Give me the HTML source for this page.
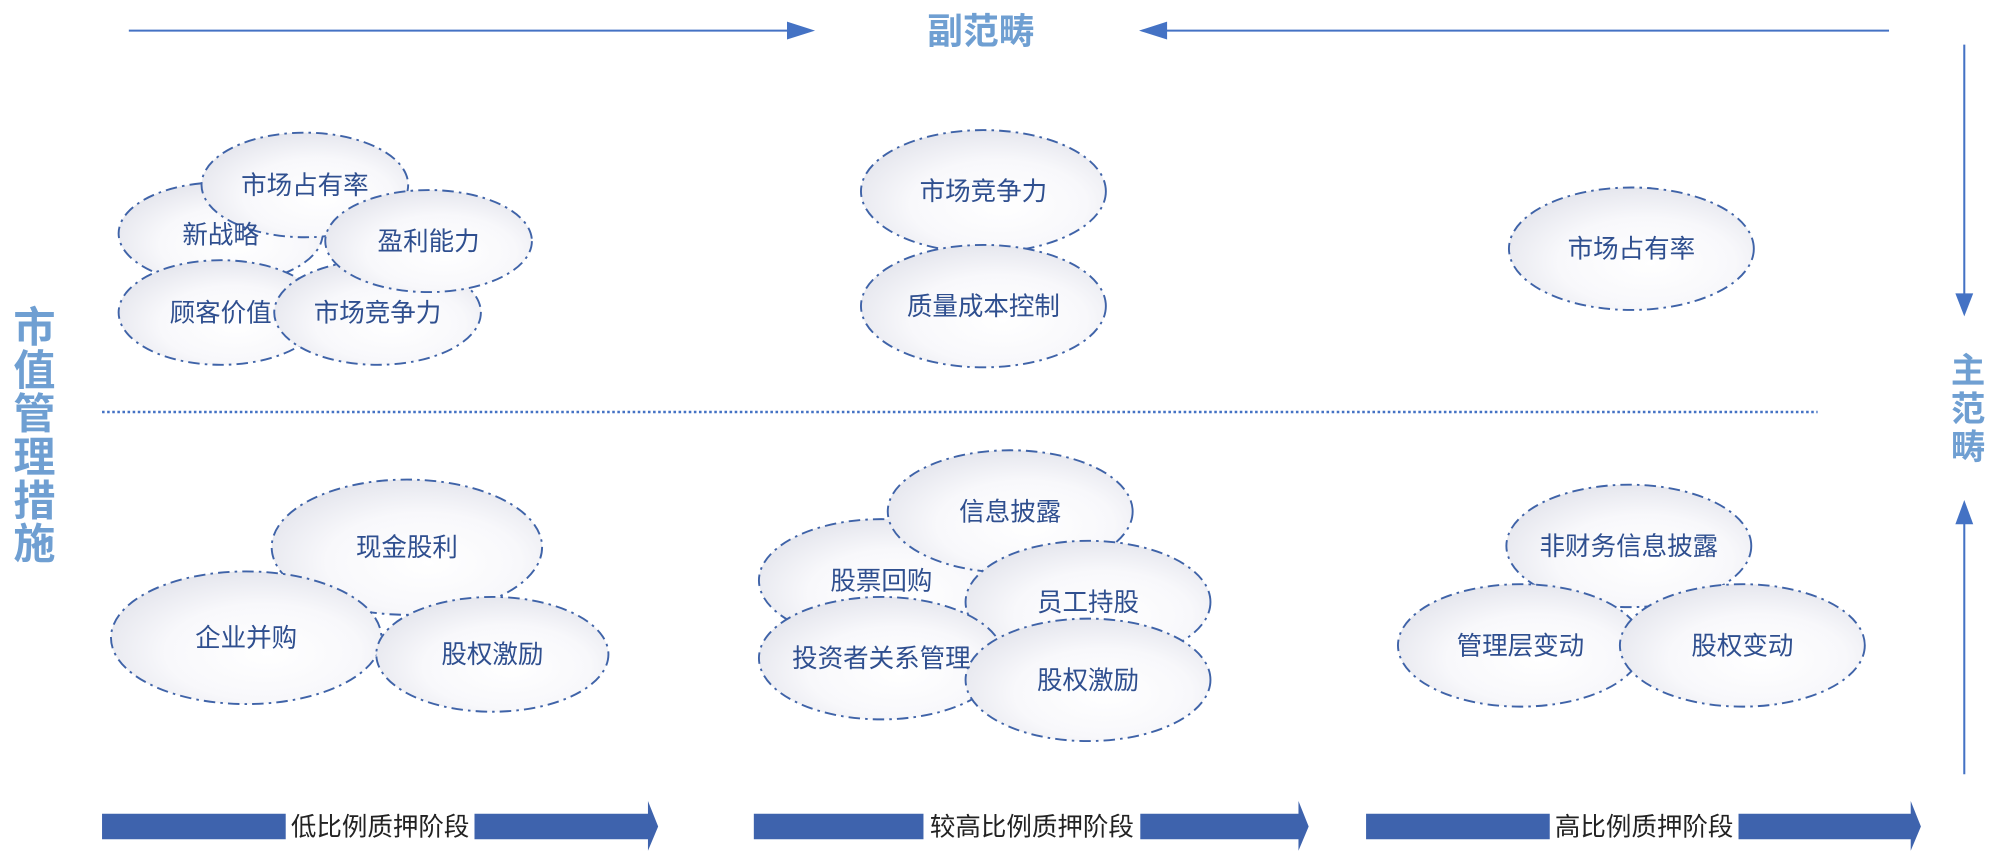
<!DOCTYPE html>
<html><head><meta charset="utf-8"><style>
html,body{margin:0;padding:0;background:#fff;}
svg{display:block;}
text{font-family:"Liberation Sans","Noto Sans CJK SC",sans-serif;}
</style></head><body>
<svg width="2000" height="860" viewBox="0 0 1568 674.24" preserveAspectRatio="none" xmlns="http://www.w3.org/2000/svg">
<defs>
<radialGradient id="g" cx="0.55" cy="0.6" r="0.6" fx="0.58" fy="0.62">
<stop offset="0" stop-color="#ffffff"/>
<stop offset="0.6" stop-color="#f8f8fb"/>
<stop offset="1" stop-color="#e6e7ee"/>
</radialGradient>
<marker id="ah" markerWidth="10" markerHeight="10" refX="9" refY="5" orient="auto" markerUnits="userSpaceOnUse" viewBox="0 0 10 10"><path d="M0,0 L10,5 L0,10 z" fill="#3f6bb8"/></marker>
</defs>
<g stroke="#4472c4" stroke-width="1.6" fill="none">
<line x1="101" y1="24" x2="620" y2="24"/>
<path d="M617,17 L639,24 L617,31 z" fill="#4472c4" stroke="none"/>
<line x1="1481" y1="24" x2="912" y2="24"/>
<path d="M915,17 L893,24 L915,31 z" fill="#4472c4" stroke="none"/>
<line x1="1540" y1="35" x2="1540" y2="232"/>
<path d="M1533,230 L1540,248 L1547,230 z" fill="#4472c4" stroke="none"/>
<line x1="1540" y1="607" x2="1540" y2="410"/>
<path d="M1533,411 L1540,392 L1547,411 z" fill="#4472c4" stroke="none"/>
</g>
<line x1="80" y1="323" x2="1425" y2="323" stroke="#4472c4" stroke-width="2" stroke-dasharray="2,2"/>
<text x="769" y="34" font-size="28" font-weight="bold" fill="#6f9fd2" text-anchor="middle">副范畴</text>
<g font-size="33" font-weight="bold" fill="#6f9fd2" text-anchor="middle">
<text x="27" y="268">市</text><text x="27" y="302">值</text><text x="27" y="336">管</text><text x="27" y="370">理</text><text x="27" y="404">措</text><text x="27" y="438">施</text>
</g>
<g font-size="27" font-weight="bold" fill="#6f9fd2" text-anchor="middle">
<text x="1543" y="300">主</text><text x="1543" y="330">范</text><text x="1543" y="360">畴</text>
</g>
<g stroke="#3f63a8" stroke-width="1.5" stroke-dasharray="9,4,2,4" fill="url(#g)">
<ellipse cx="173" cy="183" rx="80" ry="40"/>
<ellipse cx="239" cy="145" rx="81" ry="41"/>
<ellipse cx="173" cy="245" rx="80" ry="41"/>
<ellipse cx="296" cy="245" rx="81" ry="41"/>
<ellipse cx="336" cy="189" rx="81" ry="40"/>
<ellipse cx="771" cy="150" rx="96" ry="48"/>
<ellipse cx="771" cy="240" rx="96" ry="48"/>
<ellipse cx="1279" cy="195" rx="96" ry="48"/>
<ellipse cx="319" cy="429" rx="106" ry="53"/>
<ellipse cx="193" cy="500" rx="106" ry="52"/>
<ellipse cx="386" cy="513" rx="91" ry="45"/>
<ellipse cx="691" cy="455" rx="96" ry="48"/>
<ellipse cx="792" cy="401" rx="96" ry="48"/>
<ellipse cx="853" cy="472" rx="96" ry="48"/>
<ellipse cx="691" cy="516" rx="96" ry="48"/>
<ellipse cx="853" cy="533" rx="96" ry="48"/>
<ellipse cx="1277" cy="428" rx="96" ry="48"/>
<ellipse cx="1192" cy="506" rx="96" ry="48"/>
<ellipse cx="1366" cy="506" rx="96" ry="48"/>
</g>
<g font-size="20" fill="#2f4f8f" text-anchor="middle">
<text x="173" y="191">新战略</text>
<text x="239" y="152">市场占有率</text>
<text x="173" y="252">顾客价值</text>
<text x="296" y="252">市场竞争力</text>
<text x="336" y="196">盈利能力</text>
<text x="771" y="157">市场竞争力</text>
<text x="771" y="247">质量成本控制</text>
<text x="1279" y="202">市场占有率</text>
<text x="319" y="436">现金股利</text>
<text x="193" y="507">企业并购</text>
<text x="386" y="520">股权激励</text>
<text x="691" y="462">股票回购</text>
<text x="792" y="408">信息披露</text>
<text x="853" y="479">员工持股</text>
<text x="691" y="523">投资者关系管理</text>
<text x="853" y="540">股权激励</text>
<text x="1277" y="435">非财务信息披露</text>
<text x="1192" y="513">管理层变动</text>
<text x="1366" y="513">股权变动</text>
</g>
<g fill="#3e63ad">
<path d="M80,638 L508,638 L508,628 L516,648 L508,667 L508,658 L80,658 z"/>
<path d="M591,638 L1018,638 L1018,628 L1026,648 L1018,667 L1018,658 L591,658 z"/>
<path d="M1071,638 L1498,638 L1498,628 L1506,648 L1498,667 L1498,658 L1071,658 z"/>
</g>
<g fill="#fff">
<rect x="224" y="636" width="148" height="25"/>
<rect x="724" y="636" width="170" height="25"/>
<rect x="1215" y="636" width="148" height="25"/>
</g>
<g font-size="20" fill="#222" text-anchor="middle">
<text x="298" y="655">低比例质押阶段</text>
<text x="809" y="655">较高比例质押阶段</text>
<text x="1289" y="655">高比例质押阶段</text>
</g>
</svg>
</body></html>
